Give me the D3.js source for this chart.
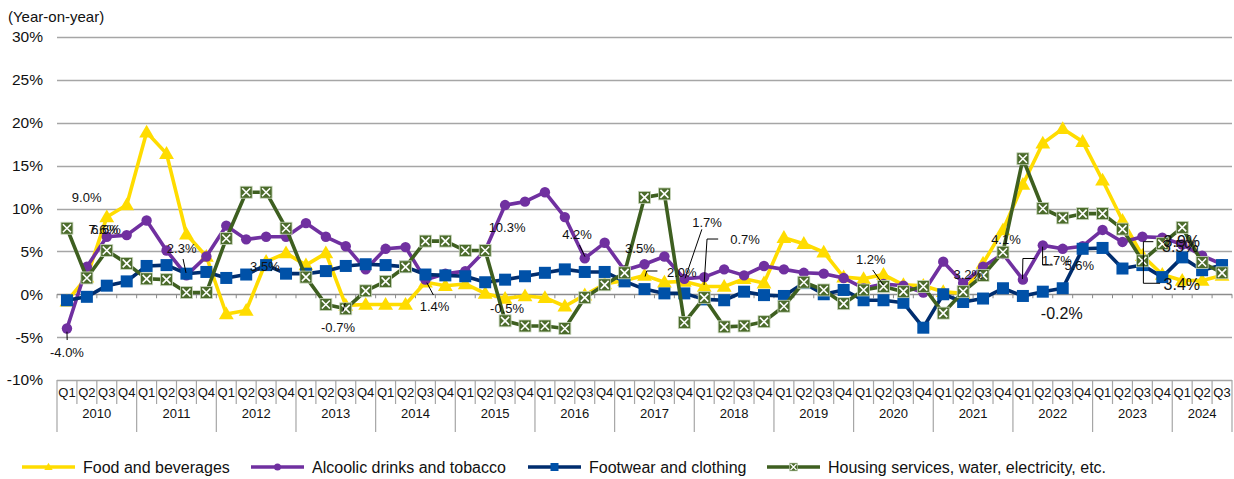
<!DOCTYPE html>
<html>
<head>
<meta charset="utf-8">
<script src="https://cdn.jsdelivr.net/npm/d3@7"></script>
<style>
  html, body { margin: 0; padding: 0; background: #fff; }
  svg { display: block; font-family: "Liberation Sans", Arial, sans-serif; }
</style>
</head>
<body>
<svg id="chart" width="1234" height="479"></svg>
<script>
// ---------- DATA ----------
const years = [2010, 2011, 2012, 2013, 2014, 2015, 2016, 2017, 2018, 2019, 2020, 2021, 2022, 2023, 2024];
const quarters = ["Q1", "Q2", "Q3", "Q4"];
const quartersPerYear = [4, 4, 4, 4, 4, 4, 4, 4, 4, 4, 4, 4, 4, 4, 3];
const yTicks = [-10, -5, 0, 5, 10, 15, 20, 25, 30];

const foodBeverages = [
  -0.8, 2.0, 9.0, 10.4, 18.9, 16.4, 7.0, 4.4, -2.3, -1.9, 3.8, 4.8, 3.4, 4.8, -1.3,
  -1.2, -1.2, -1.2, 1.4, 1.0, 1.2, 0.1, -0.5, -0.2, -0.4, -1.4, -0.1, 1.2, 1.6, 2.2,
  1.4, 1.5, 0.9, 0.9, 1.8, 1.3, 6.6, 5.9, 4.9, 2.0, 1.8, 2.3, 1.1, 1.0, 0.3,
  0.1, 3.6, 7.5, 12.8, 17.6, 19.3, 17.8, 13.3, 8.6, 4.5, 2.3, 1.6, 1.6, 2.2
];
const alcoholTobacco = [
  -4.0, 3.2, 6.7, 6.9, 8.6, 5.1, 2.2, 4.4, 8.0, 6.4, 6.7, 6.7, 8.3, 6.7, 5.6,
  2.9, 5.3, 5.5, 1.7, 2.4, 2.7, 5.1, 10.4, 10.8, 11.9, 9.0, 4.2, 6.0, 2.8, 3.5,
  4.4, 1.8, 2.0, 2.9, 2.2, 3.3, 2.9, 2.5, 2.4, 1.9, 0.7, 1.2, 1.0, 0.2, 3.8,
  1.3, 3.2, 4.7, 1.7, 5.7, 5.3, 5.6, 7.5, 6.1, 6.7, 6.6, 5.8, 4.5, 3.5
];
const footwearClothing = [
  -0.7, -0.3, 1.0, 1.5, 3.3, 3.4, 2.4, 2.6, 1.9, 2.3, 3.4, 2.4, 2.4, 2.7, 3.3,
  3.5, 3.4, 3.2, 2.3, 2.2, 2.1, 1.4, 1.7, 2.1, 2.5, 2.9, 2.6, 2.6, 1.5, 0.6,
  0.1, 0.1, -0.6, -0.7, 0.3, -0.1, -0.2, 1.3, 0.0, 0.5, -0.7, -0.7, -1.0, -3.9, 0.0,
  -0.9, -0.5, 0.7, -0.2, 0.3, 0.7, 5.3, 5.4, 3.0, 3.4, 2.0, 4.3, 2.8, 3.4
];
const housingUtilities = [
  7.7, 1.9, 5.1, 3.6, 1.8, 1.7, 0.2, 0.2, 6.5, 11.9, 11.9, 7.7, 2.0, -1.2, -1.7,
  0.4, 1.5, 3.2, 6.2, 6.2, 5.1, 5.1, -3.1, -3.7, -3.7, -4.0, -0.4, 1.1, 2.5, 11.3,
  11.7, -3.3, -0.4, -3.8, -3.7, -3.2, -1.4, 1.4, 0.5, -1.1, 0.5, 0.9, 0.3, 0.9, -2.2,
  0.3, 2.2, 4.9, 15.8, 10.0, 8.9, 9.4, 9.4, 7.6, 3.9, 5.9, 7.8, 3.7, 2.5
];
const seriesNames = ["Food and beverages", "Alcoolic drinks and tobacco", "Footwear and clothing", "Housing services, water, electricity, etc."];

// data labels as drawn in the reference: text, category position, value, larger font flag
const labelTexts = ["9.0%", "7.6%", "6.6%", "-4.0%", "2.3%", "3.5%", "-0.7%", "1.4%", "10.3%", "-0.5%", "4.2%", "3.5%", "2.0%", "1.7%", "0.7%", "1.2%", "3.2%", "4.1%", "1.7%", "5.6%", "-0.2%", "3.9%", "3.5%", "3.4%"];
const labelCats  = [0.99, 1.82, 1.96, 0.0, 5.76, 9.94, 13.61, 18.46, 22.1, 22.1, 25.61, 28.77, 30.87, 32.14, 34.05, 40.36, 45.26, 47.15, 49.71, 50.83, 49.95, 55.98, 55.9, 55.98];
const labelVals  = [11.3, 7.6, 7.55, -6.85, 5.39, 3.18, -3.82, -1.45, 7.73, -1.66, 6.91, 5.36, 2.59, 8.34, 6.33, 4.08, 2.25, 6.41, 3.99, 3.33, -2.22, 6.13, 5.55, 1.08];
const labelBig   = [0, 0, 0, 0, 0, 0, 0, 0, 0, 0, 0, 0, 0, 0, 0, 0, 0, 0, 0, 0, 1, 1, 1, 1];
// leader lines: lists of [category position, value]
const leaders = [
  [[0.0, -4.37], [0.01, -5.34]],
  [[5.83, 4.11], [5.98, 2.48]],
  [[13.85, -2.03], [13.97, -1.02]],
  [[18.07, 1.35], [18.4, -0.09]],
  [[25.73, 5.74], [26.01, 4.38]],
  [[29.65, 2.71], [29.11, 2.71], [29.03, 2.07]],
  [[31.88, 7.57], [31.04, 1.86]],
  [[32.7, 6.44], [32.14, 6.44], [31.99, 1.08]],
  [[40.46, 2.83], [40.99, 1.08]],
  [[48.6, 4.17], [48.0, 4.17], [47.98, 1.78]],
  [[48.99, 5.55], [48.99, 3.41], [49.5, 3.41]],
  [[54.55, 6.13], [54.05, 6.13], [54.05, 1.28], [54.89, 1.28]]
];

// ---------- LAYOUT ----------
const svg = d3.select("#chart");
const plotLeft = 57, plotRight = 1232, plotTop = 37, plotBottom = 380;

const categories = [];
years.forEach((yr, yi) => {
  for (let q = 0; q < quartersPerYear[yi]; q++) categories.push({ year: yr, q: quarters[q] });
});
const n = categories.length;

const x = d3.scaleBand().domain(d3.range(n)).range([plotLeft, plotRight]).paddingInner(0).paddingOuter(0);
const bw = x.bandwidth();
const cx = c => plotLeft + (c + 0.5) * bw;
const y = d3.scaleLinear().domain([-10, 30]).range([plotBottom, plotTop]);

// gridlines
svg.append("g").selectAll("line").data(yTicks).join("line")
  .attr("x1", plotLeft).attr("x2", plotRight)
  .attr("y1", d => Math.round(y(d)) + 0.5).attr("y2", d => Math.round(y(d)) + 0.5)
  .attr("stroke", d => d === 0 ? "#8c8c8c" : "#a6a6a6").attr("stroke-width", 1.3);

// y axis labels
const yAxis = d3.axisLeft(y).tickValues(yTicks).tickFormat(d => d + "%").tickSize(0).tickPadding(14);
const yg = svg.append("g").attr("transform", `translate(${plotLeft},0)`).call(yAxis);
yg.select(".domain").remove();
yg.selectAll("text").attr("font-size", 15.5).attr("fill", "#111").attr("font-family", "Liberation Sans, Arial, sans-serif");

svg.append("text").attr("x", 8).attr("y", 22).attr("font-size", 15).attr("fill", "#111").text("(Year-on-year)");

// tick marks on 0% line
svg.append("g").selectAll("line").data(d3.range(n + 1)).join("line")
  .attr("x1", i => plotLeft + i * bw).attr("x2", i => plotLeft + i * bw)
  .attr("y1", y(0)).attr("y2", y(0) + 4)
  .attr("stroke", "#8c8c8c").attr("stroke-width", 1);

// category axis (multi-level)
const catG = svg.append("g");
const yearStarts = [];
let acc = 0;
quartersPerYear.forEach(c => { yearStarts.push(acc); acc += c; });
yearStarts.push(n);
catG.selectAll("line.q").data(d3.range(n + 1).filter(i => !yearStarts.includes(i))).join("line")
  .attr("x1", i => plotLeft + i * bw).attr("x2", i => plotLeft + i * bw)
  .attr("y1", plotBottom).attr("y2", 404).attr("stroke", "#a6a6a6").attr("stroke-width", 1.2);
catG.selectAll("line.y").data(yearStarts).join("line")
  .attr("x1", i => plotLeft + i * bw).attr("x2", i => plotLeft + i * bw)
  .attr("y1", plotBottom).attr("y2", 432).attr("stroke", "#a6a6a6").attr("stroke-width", 1.2);
catG.selectAll("text.q").data(categories).join("text")
  .attr("x", (d, i) => cx(i)).attr("y", 397).attr("text-anchor", "middle")
  .attr("font-size", 13).attr("fill", "#111").text(d => d.q);
catG.selectAll("text.y").data(years).join("text")
  .attr("x", (d, i) => (plotLeft + yearStarts[i] * bw + plotLeft + yearStarts[i + 1] * bw) / 2)
  .attr("y", 418).attr("text-anchor", "middle")
  .attr("font-size", 13).attr("fill", "#111").text(d => d);

// ---------- SERIES ----------
const line = d3.line().x((d, i) => cx(i)).y(d => y(d));
const plot = svg.append("g");

function drawLine(data, color) {
  plot.append("path").datum(data).attr("d", line)
    .attr("fill", "none").attr("stroke", color).attr("stroke-width", 3.6)
    .attr("stroke-linejoin", "round");
}

// Food and beverages (yellow, triangles)
drawLine(foodBeverages, "#FFDC00");
plot.append("g").selectAll("path").data(foodBeverages).join("path")
  .attr("d", d3.symbol().type(d3.symbolTriangle).size(95))
  .attr("transform", (d, i) => `translate(${cx(i)},${y(d) + 1})`)
  .attr("fill", "#FFDC00");

// Alcoholic drinks (purple, circles)
drawLine(alcoholTobacco, "#7030A0");
plot.append("g").selectAll("circle").data(alcoholTobacco).join("circle")
  .attr("cx", (d, i) => cx(i)).attr("cy", d => y(d)).attr("r", 5.2)
  .attr("fill", "#7030A0");

// Footwear (navy line, blue squares)
drawLine(footwearClothing, "#002D6E");
plot.append("g").selectAll("rect").data(footwearClothing).join("rect")
  .attr("x", (d, i) => cx(i) - 6).attr("y", d => y(d) - 6).attr("width", 12).attr("height", 12)
  .attr("fill", "#0051A8");

// Housing (green, x-boxes)
drawLine(housingUtilities, "#3E5F20");
const hb = plot.append("g").selectAll("g").data(housingUtilities).join("g")
  .attr("transform", (d, i) => `translate(${cx(i)},${y(d)})`);
hb.append("rect").attr("x", -6).attr("y", -6).attr("width", 12).attr("height", 12)
  .attr("fill", "#4B6B2B").attr("stroke", "#c9d6bd").attr("stroke-width", 0.8);
hb.append("path").attr("d", "M-4,-4L4,4M4,-4L-4,4").attr("stroke", "#fff").attr("stroke-width", 1.6);

// ---------- DATA LABELS ----------
const lab = svg.append("g");
leaders.forEach(pts => {
  lab.append("path").attr("d", d3.line().x(p => cx(p[0])).y(p => y(p[1]))(pts))
    .attr("fill", "none").attr("stroke", "#000").attr("stroke-width", 1);
});
labelTexts.forEach((t, i) => {
  lab.append("text").attr("x", cx(labelCats[i])).attr("y", y(labelVals[i]))
    .attr("text-anchor", "middle").attr("dominant-baseline", "central")
    .attr("font-size", labelBig[i] ? 16 : 13).attr("fill", "#111").text(t);
});

// ---------- LEGEND ----------
const legendX = [22, 251, 528, 767];
const legendColors = ["#FFDC00", "#7030A0", "#002D6E", "#3E5F20"];
const lg = svg.append("g");
seriesNames.forEach((name, i) => {
  const g = lg.append("g").attr("transform", `translate(${legendX[i]},467)`);
  g.append("line").attr("x1", 0).attr("x2", 53).attr("y1", 0).attr("y2", 0)
    .attr("stroke", legendColors[i]).attr("stroke-width", 3.6);
  if (i === 0) g.append("path").attr("d", d3.symbol().type(d3.symbolTriangle).size(30)).attr("transform", "translate(26.5,0.5)").attr("fill", "#FFDC00");
  if (i === 1) g.append("circle").attr("cx", 26.5).attr("cy", 0).attr("r", 3.5).attr("fill", "#7030A0");
  if (i === 2) g.append("rect").attr("x", 22.5).attr("y", -4).attr("width", 8).attr("height", 8).attr("fill", "#0051A8");
  if (i === 3) {
    g.append("rect").attr("x", 22.5).attr("y", -4).attr("width", 8).attr("height", 8).attr("fill", "#4B6B2B").attr("stroke", "#c9d6bd").attr("stroke-width", 0.6);
    g.append("path").attr("d", "M23.5,-3L29.5,3M29.5,-3L23.5,3").attr("stroke", "#fff").attr("stroke-width", 1.2);
  }
  g.append("text").attr("x", 61).attr("y", 0).attr("dominant-baseline", "central")
    .attr("font-size", 16).attr("fill", "#111").text(name);
});
</script>
</body>
</html>
